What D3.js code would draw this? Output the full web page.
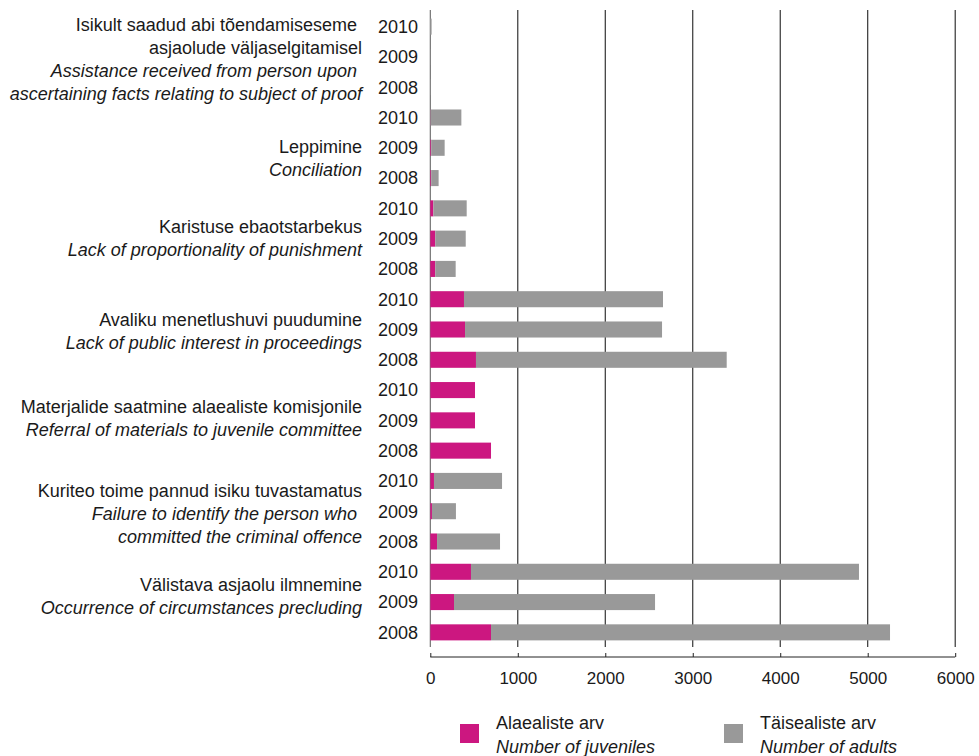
<!DOCTYPE html>
<html>
<head>
<meta charset="utf-8">
<script src="https://cdn.jsdelivr.net/npm/d3@7"></script>
<style>
  html, body { margin: 0; padding: 0; background: #fff; }
  svg { display: block; font-family: "Liberation Sans", Arial, sans-serif; }
  text { white-space: pre; }
</style>
</head>
<body>
<svg id="chart" width="979" height="756"></svg>
<script>
// ---- data ----
const groupLabelsEt = [
  ["Isikult saadud abi tõendamiseseme ", "asjaolude väljaselgitamisel"],
  ["Leppimine"],
  ["Karistuse ebaotstarbekus"],
  ["Avaliku menetlushuvi puudumine"],
  ["Materjalide saatmine alaealiste komisjonile"],
  ["Kuriteo toime pannud isiku tuvastamatus"],
  ["Välistava asjaolu ilmnemine"]
];
const groupLabelsEn = [
  ["Assistance received from person upon ", "ascertaining facts relating to subject of proof"],
  ["Conciliation"],
  ["Lack of proportionality of punishment"],
  ["Lack of public interest in proceedings"],
  ["Referral of materials to juvenile committee"],
  ["Failure to identify the person who ", "committed the criminal offence"],
  ["Occurrence of circumstances precluding"]
];
const years = ["2010", "2009", "2008"];
// per group: values for [2010, 2009, 2008]
const juveniles = [
  [0, 0, 0],
  [3, 10, 10],
  [35, 57, 57],
  [385, 397, 522],
  [511, 511, 694],
  [42, 19, 77],
  [465, 271, 694]
];
const adults = [
  [15, 2, 3],
  [352, 154, 85],
  [381, 348, 233],
  [2275, 2252, 2866],
  [0, 0, 0],
  [778, 274, 720],
  [4435, 2298, 4561]
];
const xTicks = [0, 1000, 2000, 3000, 4000, 5000, 6000];
const seriesNames = [
  ["Alaealiste arv", "Number of juveniles"],
  ["Täisealiste arv", "Number of adults"]
];

// ---- layout ----
const colors = { juveniles: "#cc1780", adults: "#999999" };
const labelShift = [2, 10, 0, 2, -2, 2, -6];
const svg = d3.select("#chart");

const rows = [];
juveniles.forEach((g, gi) => years.forEach((y, yi) => {
  rows.push({ key: gi + "-" + y, group: gi, year: y, juveniles: juveniles[gi][yi], adults: adults[gi][yi] });
}));

const x = d3.scaleLinear().domain([0, 6000]).range([430.3, 955.2]);
const y = d3.scaleBand().domain(rows.map(d => d.key)).range([11.5, 647.5]).paddingInner(0.47).paddingOuter(0.235);

// gridlines
svg.append("g").selectAll("line").data(xTicks).join("line")
  .attr("x1", d => x(d)).attr("x2", d => x(d))
  .attr("y1", 10).attr("y2", 647)
  .attr("stroke", d => d === 0 ? "#666" : "#222").attr("stroke-width", 1.1);

// bars
const stack = d3.stack().keys(["juveniles", "adults"])(rows);
svg.append("g").selectAll("g").data(stack).join("g")
  .attr("fill", s => colors[s.key])
  .selectAll("rect").data(s => s).join("rect")
  .attr("x", d => x(d[0]))
  .attr("width", d => Math.max(0, x(d[1]) - x(d[0])))
  .attr("y", d => y(d.data.key))
  .attr("height", y.bandwidth());

// bottom axis
const axis = svg.append("g").attr("transform", "translate(0,657)")
  .call(d3.axisBottom(x).tickValues(xTicks).tickSize(-4).tickPadding(0).tickFormat(d3.format("d")));
axis.select(".domain").attr("stroke", "#222").attr("d", `M${x(0)},0H${x(6000)}`);
axis.selectAll(".tick line").attr("stroke", "#222");
axis.selectAll(".tick text").attr("y", 21).attr("dy", "0.35em")
  .attr("font-size", 17).attr("fill", "#1a1a1a").attr("font-family", "Liberation Sans, Arial, sans-serif");

// year labels
svg.append("g").selectAll("text").data(rows).join("text")
  .attr("x", 418).attr("y", d => y(d.key) + y.bandwidth() / 2)
  .attr("dy", "0.35em").attr("text-anchor", "end")
  .attr("font-size", 18).attr("fill", "#1a1a1a")
  .text(d => d.year);

// category labels
const lineH = 23;
groupLabelsEt.forEach((et, gi) => {
  const lines = et.map(t => ({ t, it: false })).concat(groupLabelsEn[gi].map(t => ({ t, it: true })));
  const cy = y(gi + "-2009") + y.bandwidth() / 2 + labelShift[gi];
  const top = cy - (lines.length - 1) * lineH / 2;
  svg.append("g").selectAll("text").data(lines).join("text")
    .attr("x", 362).attr("y", (d, i) => top + i * lineH)
    .attr("dy", "0.35em").attr("text-anchor", "end")
    .attr("font-size", 18).attr("fill", "#1a1a1a")
    .attr("font-style", d => d.it ? "italic" : "normal")
    .text(d => d.t);
});

// legend
const legendX = [460, 724];
const lg = svg.append("g").selectAll("g").data(["juveniles", "adults"]).join("g")
  .attr("transform", (d, i) => `translate(${legendX[i]},724)`);
lg.append("rect").attr("width", 19).attr("height", 19).attr("fill", d => colors[d]);
lg.each(function(d, i) {
  const g = d3.select(this);
  seriesNames[i].forEach((t, j) => {
    g.append("text").attr("x", 36).attr("y", -1 + j * 24).attr("dy", "0.35em")
      .attr("font-size", 18).attr("fill", "#1a1a1a")
      .attr("font-style", j === 1 ? "italic" : "normal").text(t);
  });
});
</script>
</body>
</html>
